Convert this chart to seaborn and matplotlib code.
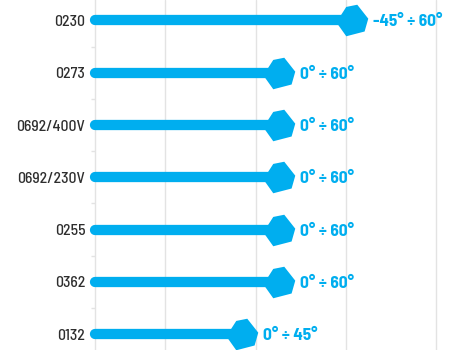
import pandas as pd
import seaborn as sns
import matplotlib.pyplot as plt
from matplotlib.ticker import NullLocator

# rotation angle ranges of each actuator model
models = ["0230", "0273", "0692/400V", "0692/230V", "0255", "0362", "0132"]
angle_min = [-45, 0, 0, 0, 0, 0, 0]
angle_max = [60, 60, 60, 60, 60, 60, 45]

df = pd.DataFrame({"model": models, "lo": angle_min, "hi": angle_max})
df["span"] = df["hi"] - df["lo"]
df["label"] = [f"{lo}° ÷ {hi}°" for lo, hi in zip(df["lo"], df["hi"])]
df["pos"] = range(len(df))

blue = "#00AEEF"
grid_c = "#e3e3e3"

sns.set_theme(style="white")
plt.rcParams["font.family"] = ["Barlow Semi Condensed", "Encode Sans Semi Condensed",
                               "DejaVu Sans"]

fig = plt.figure(figsize=(4.54, 3.5), dpi=100)
ax = fig.add_axes([95 / 454, 0, 1 - 95 / 454, 1])
ax.set_xscale("log")
x0 = 14.57

# stems
ax.hlines(df["pos"], x0, df["span"], color=blue, lw=7.4,
          capstyle="round", clip_on=False, zorder=3)

# pentagon-ish heads
head = [(-17, 37), (13, 43), (43, 5), (33, -30), (-17, -43), (-44, -5)]
sns.scatterplot(data=df, x="span", y="pos", marker=head, s=540,
                color=blue, edgecolor=blue, linewidth=0, zorder=4,
                clip_on=False, ax=ax, legend=False)

for _, r in df.iterrows():
    ax.annotate(r["label"], (r["span"], r["pos"]), xytext=(21, 0),
                textcoords="offset pixels", ha="left", va="center_baseline",
                color=blue, fontsize=12.5, fontweight="bold")

# axes cosmetics
ax.set_xticks([25, 50, 100, 200])
ax.xaxis.set_minor_locator(NullLocator())
ax.set_xticklabels([])
ax.tick_params(axis="x", length=0)
ax.grid(axis="x", color=grid_c, lw=1)
ax.set_axisbelow(True)

ax.set_yticks(df["pos"], df["model"])
ax.set_yticks([p + 0.5 for p in df["pos"]], minor=True)
ax.tick_params(axis="y", which="major", length=0, pad=7,
               labelsize=11.3, labelcolor="#2e2e2e")
for t in ax.get_yticklabels():
    t.set_fontweight("medium")
ax.tick_params(axis="y", which="minor", length=3.2, width=1,
               color=grid_c, left=True)
ax.set_xlabel("")
ax.set_ylabel("")

ax.set_xlim(x0, 229.3)
ax.set_ylim(6.304, -0.392)

for side in ["top", "right", "bottom"]:
    ax.spines[side].set_visible(False)
ax.spines["left"].set_color(grid_c)
ax.spines["left"].set_linewidth(1)

fig.savefig("out.png", dpi=100)
